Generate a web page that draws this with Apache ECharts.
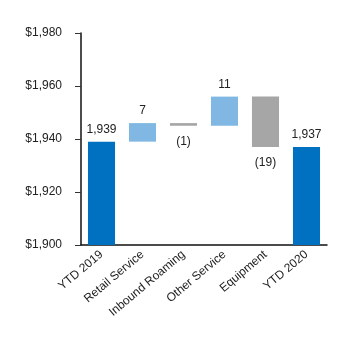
<!DOCTYPE html>
<html>
<head>
<meta charset="utf-8">
<script src="https://cdn.jsdelivr.net/npm/echarts@6/dist/echarts.min.js"></script>
<style>
  html, body { margin: 0; padding: 0; background: #fff; }
  #chart { width: 360px; height: 353px; }
</style>
</head>
<body>
<div id="chart"></div>
<script>
// categories and values
var categories = ["YTD 2019", "Retail Service", "Inbound Roaming", "Other Service", "Equipment", "YTD 2020"];
var totals = [1939, null, null, null, null, 1937];
var changes = [null, 7, -1, 11, -19, null];
var yTicks = [1900, 1920, 1940, 1960, 1980];

// invisible base under each floating bar
var base = [], ups = [], downs = [], running = totals[0];
categories.forEach(function (c, i) {
  var d = changes[i];
  if (d === null) {
    base.push("-"); ups.push("-"); downs.push("-");
    return;
  }
  if (d >= 0) {
    base.push(running); ups.push(d); downs.push("-");
  } else {
    base.push(running + d); ups.push("-"); downs.push(-d);
  }
  running += d;
});

var chart = echarts.init(document.getElementById("chart"));
var font = "Liberation Sans";
var labelStyle = { fontFamily: font, fontSize: 12, color: "#222" };

chart.setOption({
  animation: false,
  grid: { left: 81, right: 33, top: 33, bottom: 108 },
  xAxis: {
    type: "category",
    data: categories,
    axisLine: { lineStyle: { color: "#111", width: 1.5 } },
    axisTick: { alignWithLabel: true, length: 5, lineStyle: { color: "#333" } },
    axisLabel: { rotate: 40, margin: 8, interval: 0, fontFamily: font, fontSize: 12, color: "#222" }
  },
  yAxis: {
    type: "value",
    min: yTicks[0],
    max: yTicks[yTicks.length - 1],
    interval: 20,
    splitLine: { show: false },
    axisLine: { show: true, lineStyle: { color: "#111", width: 1.5 } },
    axisTick: { show: true, length: 6, lineStyle: { color: "#333" } },
    axisLabel: {
      margin: 19, fontFamily: font, fontSize: 12, color: "#222",
      formatter: function (v) { return "$" + v.toLocaleString("en-US"); }
    }
  },
  series: [
    {
      type: "bar", stack: "w", barWidth: "66%",
      data: totals.map(function (v) { return v === null ? "-" : v; }),
      itemStyle: { color: "#0071c1" },
      label: Object.assign({ show: true, position: "top", distance: 6,
        formatter: function (p) { return p.value.toLocaleString("en-US"); } }, labelStyle)
    },
    {
      type: "bar", stack: "w", barWidth: "66%",
      data: base,
      itemStyle: { color: "transparent" },
      silent: true
    },
    {
      type: "bar", stack: "w", barWidth: "66%",
      data: ups,
      itemStyle: { color: "#80b8e3" },
      label: Object.assign({ show: true, position: "top", distance: 6 }, labelStyle)
    },
    {
      type: "bar", stack: "w", barWidth: "66%",
      data: downs,
      itemStyle: { color: "#a6a6a6" },
      label: Object.assign({ show: true, position: "bottom", distance: 10,
        formatter: function (p) { return "(" + p.value + ")"; } }, labelStyle)
    }
  ]
});
</script>
</body>
</html>
